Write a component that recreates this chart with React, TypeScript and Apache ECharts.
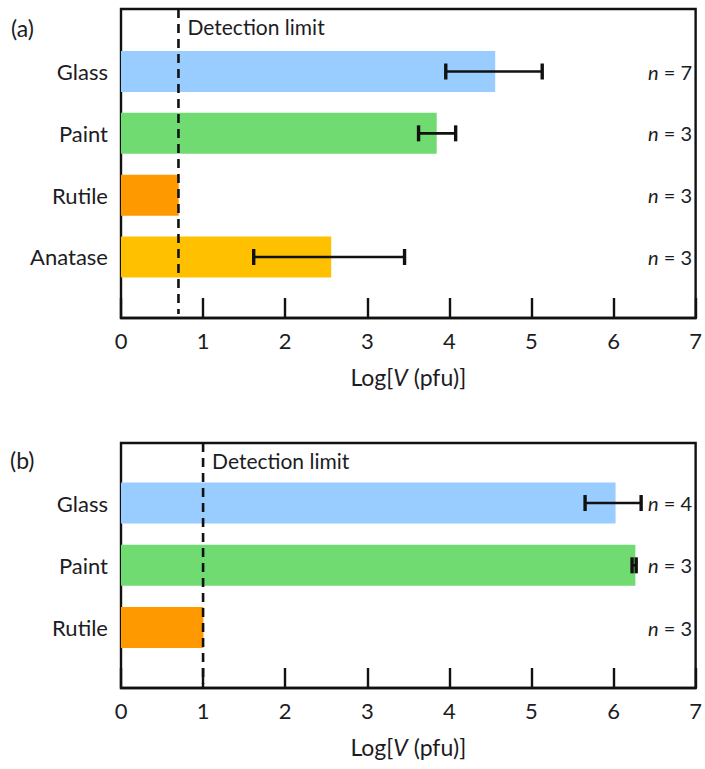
import React, { useEffect, useRef } from 'react';
import * as echarts from 'echarts';

// ---- data ----
const categoriesA = ['Glass', 'Paint', 'Rutile', 'Anatase'];
const meanA = [4.54, 3.83, 0.7, 2.55];
const errLowA: (number | null)[] = [3.94, 3.61, null, 1.61];
const errHighA: (number | null)[] = [5.11, 4.06, null, 3.44];
const nA = [7, 3, 3, 3];
const detectionA = 0.7;

const categoriesB = ['Glass', 'Paint', 'Rutile'];
const meanB = [6.0, 6.24, 1.0];
const errLowB: (number | null)[] = [5.63, 6.2, null];
const errHighB: (number | null)[] = [6.31, 6.25, null];
const nB = [4, 3, 3];
const detectionB = 1.0;

const colorsByCategory: Record<string, string> = {
  Glass: '#99CCFF',
  Paint: '#70DB70',
  Rutile: '#FF9900',
  Anatase: '#FFC000',
};

const xMin = 0;
const xMax = 7;
const xInterval = 1;

const FONT = 'Lato';
const TXT = '#1c1c24';
const INK = '#111111';

function buildPanel(
  p: number,
  cats: string[],
  means: number[],
  lows: (number | null)[],
  highs: (number | null)[],
  ns: number[],
  det: number,
  frame: { top: number; height: number },
  bars: { top: number; height: number }
) {
  const fg = p * 2;
  const bg = p * 2 + 1;
  const grids = [
    {
      left: 121,
      width: 577,
      top: frame.top,
      height: frame.height,
      show: true,
      borderColor: INK,
      borderWidth: 2.4,
      backgroundColor: 'transparent',
    },
    { left: 121, width: 577, top: bars.top, height: bars.height },
  ];
  const xAxes = [
    {
      gridIndex: fg,
      type: 'value',
      min: xMin,
      max: xMax,
      interval: xInterval,
      axisLine: { show: true, onZero: false, lineStyle: { color: INK, width: 2.4 } },
      axisTick: { show: true, inside: true, length: 20, lineStyle: { color: INK, width: 2.4 } },
      axisLabel: { fontSize: 22, margin: 11, color: TXT, fontFamily: FONT },
      splitLine: { show: false },
      name: '{a|Log[}{i|V}{a| (pfu)]}',
      nameLocation: 'middle',
      nameGap: 47,
      nameTextStyle: {
        rich: {
          a: { fontSize: 23, color: TXT, fontFamily: FONT },
          i: { fontSize: 23, color: TXT, fontFamily: FONT, fontStyle: 'italic' },
        },
      },
    },
    { gridIndex: bg, type: 'value', min: xMin, max: xMax, interval: xInterval, show: false },
  ];
  const yAxes = [
    { gridIndex: fg, type: 'value', min: 0, max: 1, show: false },
    {
      gridIndex: bg,
      type: 'category',
      data: cats,
      inverse: true,
      axisLine: { show: false },
      axisTick: { show: false },
      axisLabel: { fontSize: 22, margin: 13, color: TXT, fontFamily: FONT },
    },
  ];
  const errData = cats
    .map((_, i) => [lows[i], highs[i], i])
    .filter((d) => d[0] !== null && d[1] !== null);
  const series = [
    {
      type: 'bar',
      xAxisIndex: bg,
      yAxisIndex: bg,
      barWidth: 41,
      data: means.map((v, i) => ({ value: v, itemStyle: { color: colorsByCategory[cats[i]] } })),
    },
    {
      type: 'custom',
      xAxisIndex: bg,
      yAxisIndex: bg,
      data: errData,
      encode: { x: [0, 1], y: 2 },
      z: 5,
      renderItem: (params: any, api: any) => {
        const lo = api.coord([api.value(0), api.value(2)]);
        const hi = api.coord([api.value(1), api.value(2)]);
        const h = 8;
        return {
          type: 'group',
          children: [
            { type: 'line', shape: { x1: lo[0], y1: lo[1], x2: hi[0], y2: hi[1] }, style: { stroke: INK, lineWidth: 2.6 } },
            { type: 'line', shape: { x1: lo[0], y1: lo[1] - h, x2: lo[0], y2: lo[1] + h }, style: { stroke: INK, lineWidth: 3.4 } },
            { type: 'line', shape: { x1: hi[0], y1: hi[1] - h, x2: hi[0], y2: hi[1] + h }, style: { stroke: INK, lineWidth: 3.4 } },
          ],
        };
      },
    },
    {
      type: 'custom',
      xAxisIndex: bg,
      yAxisIndex: bg,
      data: ns.map((n, i) => [xMax, i, n]),
      encode: { x: 0, y: 1 },
      z: 6,
      renderItem: (params: any, api: any) => {
        const pt = api.coord([api.value(0), api.value(1)]);
        return {
          type: 'text',
          x: pt[0] - 6,
          y: pt[1],
          style: {
            text: '{i|n} = ' + api.value(2),
            align: 'right',
            verticalAlign: 'middle',
            fontSize: 20,
            fontFamily: FONT,
            fill: TXT,
            rich: { i: { fontStyle: 'italic', fontSize: 20, fontFamily: FONT, fill: TXT } },
          },
        };
      },
    },
    {
      type: 'custom',
      xAxisIndex: fg,
      yAxisIndex: fg,
      data: [[det]],
      encode: { x: 0 },
      z: 7,
      renderItem: (params: any, api: any) => {
        const t = api.coord([api.value(0), 1]);
        const b = api.coord([api.value(0), 0]);
        return {
          type: 'group',
          children: [
            {
              type: 'line',
              shape: { x1: t[0], y1: t[1], x2: b[0], y2: b[1] - 4 },
              style: { stroke: INK, lineWidth: 2.6, lineDash: [9, 6] },
            },
            {
              type: 'text',
              x: t[0] + 9,
              y: t[1] + 17,
              style: {
                text: 'Detection limit',
                fontSize: 21,
                fontFamily: FONT,
                fill: TXT,
                align: 'left',
                verticalAlign: 'middle',
              },
            },
          ],
        };
      },
    },
  ];
  return { grids, xAxes, yAxes, series };
}

export default function App() {
  const ref = useRef<HTMLDivElement>(null);
  useEffect(() => {
    if (!ref.current) return;
    const chart = echarts.init(ref.current, null, { renderer: 'svg' });
    const a = buildPanel(0, categoriesA, meanA, errLowA, errHighA, nA, detectionA, { top: 9, height: 309 }, { top: 40.6, height: 247.3 });
    const b = buildPanel(1, categoriesB, meanB, errLowB, errHighB, nB, detectionB, { top: 443, height: 245 }, { top: 471.9, height: 186.8 });
    chart.setOption({
      animation: false,
      backgroundColor: '#ffffff',
      grid: [...a.grids, ...b.grids],
      xAxis: [...a.xAxes, ...b.xAxes],
      yAxis: [...a.yAxes, ...b.yAxes],
      series: [...a.series, ...b.series],
      graphic: [
        { type: 'text', left: 11, top: 16, style: { text: '(a)', fontSize: 23, fontFamily: FONT, fill: TXT } },
        { type: 'text', left: 10, top: 448, style: { text: '(b)', fontSize: 23, fontFamily: FONT, fill: TXT } },
      ],
    });
    return () => chart.dispose();
  }, []);
  return <div ref={ref} style={{ position: 'fixed', left: 0, top: 0, width: 705, height: 769 }} />;
}
